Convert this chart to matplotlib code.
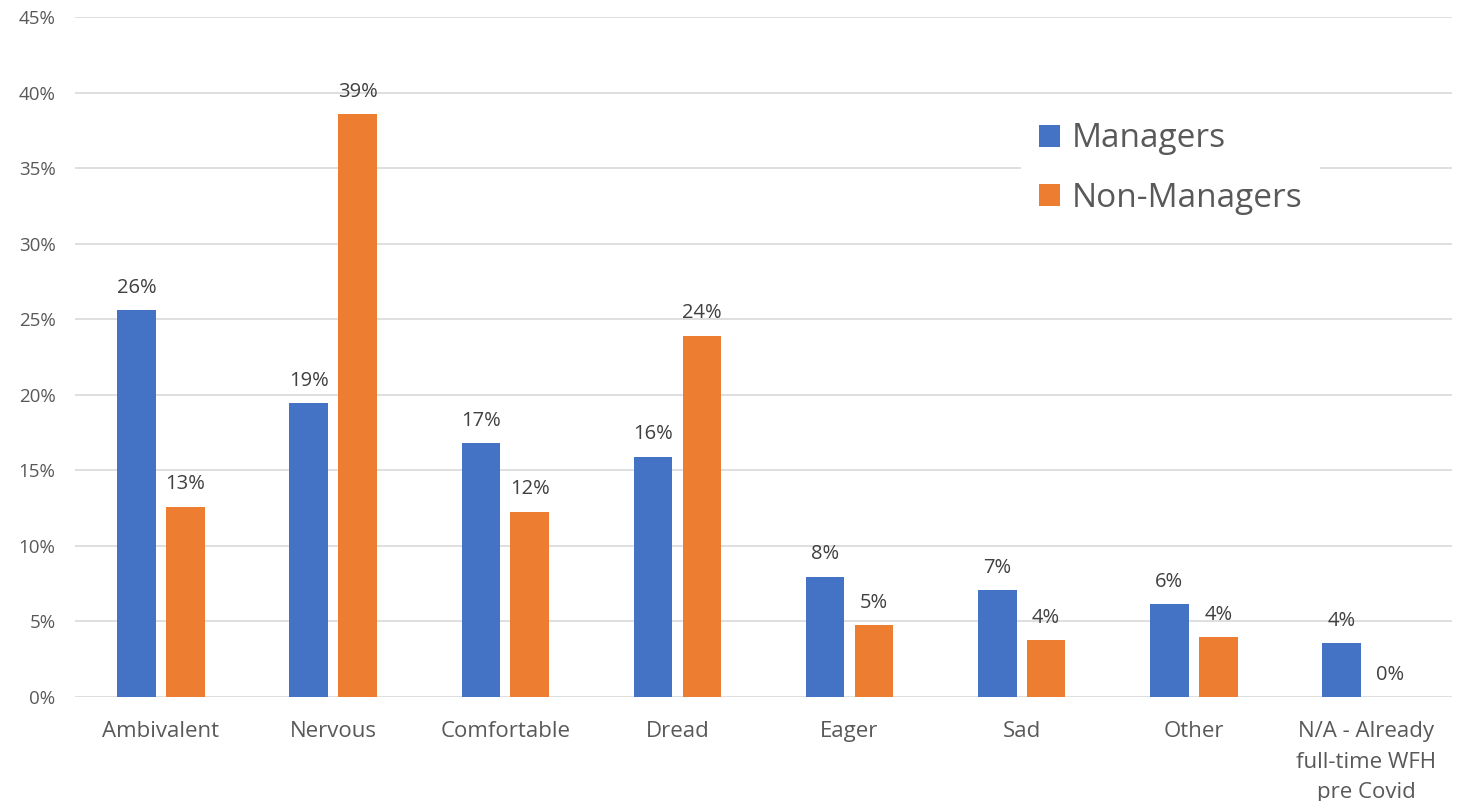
import matplotlib.pyplot as plt
import numpy as np

plt.rcParams['font.family'] = ['Open Sans', 'DejaVu Sans']

categories = ["Ambivalent", "Nervous", "Comfortable", "Dread", "Eager", "Sad", "Other",
              "N/A - Already\nfull-time WFH\npre Covid"]
managers = [25.6, 19.45, 16.8, 15.9, 7.95, 7.08, 6.15, 3.55]
non_managers = [12.6, 38.55, 12.25, 23.9, 4.76, 3.77, 3.97, 0.0]
yticks = [0, 5, 10, 15, 20, 25, 30, 35, 40, 45]

blue = "#4472C4"
orange = "#ED7D31"
grid_col = "#D9D9D9"
text_col = "#595959"

fig = plt.figure(figsize=(14.63, 8.01), dpi=100)
W, H = 1463, 801
ax = fig.add_axes([75 / W, 1 - 697 / H, (1452 - 75) / W, (697 - 17) / H])

x = np.arange(len(categories))
width = 0.224
off = 0.142
b1 = ax.bar(x - off, managers, width, color=blue, label="Managers", zorder=3)
b2 = ax.bar(x + off, non_managers, width, color=orange, label="Non-Managers", zorder=3)

# data labels
for bars, vals in ((b1, managers), (b2, non_managers)):
    for bar, v in zip(bars, vals):
        ax.annotate(f"{v:.0f}%", (bar.get_x() + bar.get_width() / 2, v),
                    xytext=(0, 9), textcoords="offset points",
                    ha="center", va="bottom", fontsize=14.5, color="#404040", zorder=4)

ax.set_xlim(-0.5, len(categories) - 0.5)
ax.set_ylim(0, 45)
ax.set_yticks(yticks)
ax.set_yticklabels([f"{t}%" for t in yticks])
ax.set_xticks(x)
ax.set_xticklabels(categories, linespacing=1.62)
ax.tick_params(axis="y", length=0, pad=14, labelsize=13.5, labelcolor=text_col)
ax.tick_params(axis="x", length=0, pad=17, labelsize=16, labelcolor=text_col)

ax.grid(axis="y", color=grid_col, linewidth=1.2, zorder=0)
ax.set_axisbelow(True)
for s in ax.spines.values():
    s.set_visible(False)

leg = ax.legend(loc="upper left", bbox_to_anchor=(1021 / W, 1 - 104 / H),
                bbox_transform=fig.transFigure, fontsize=24, frameon=True,
                fancybox=False, edgecolor="none", facecolor="white", framealpha=1,
                handlelength=0.63, handleheight=0.63, handletextpad=0.33,
                labelspacing=0.8, borderpad=0.55, borderaxespad=0)
for t in leg.get_texts():
    t.set_color(text_col)
leg.set_zorder(5)

fig.savefig("out.png", dpi=100, facecolor="white")
